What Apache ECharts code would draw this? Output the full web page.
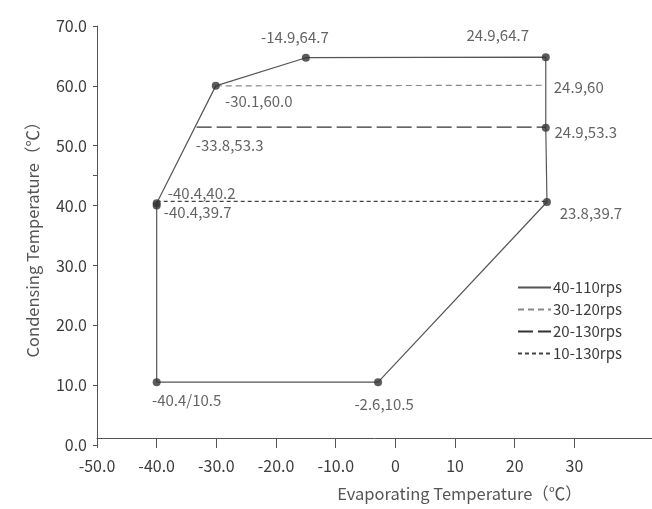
<!DOCTYPE html>
<html>
<head>
<meta charset="utf-8">
<script src="https://cdn.jsdelivr.net/npm/echarts@6/dist/echarts.min.js"></script>
<style>html,body{margin:0;padding:0;background:#fff}#c{width:652px;height:509px}</style>
</head>
<body>
<div id="c"></div>
<script>
// ---- data ----
const seriesNames = ['40-110rps', '30-120rps', '20-130rps', '10-130rps'];
// operating envelope (40-110rps), closed polygon
const envelopeX = [-40.0, -2.9, 25.4, 25.2, 25.2, -15.0, -30.1, -40.0, -40.0, -40.0];
const envelopeY = [10.5, 10.5, 40.6, 53.0, 64.8, 64.7, 60.0, 40.4, 40.0, 10.5];
// dots drawn on the envelope (indices into envelope arrays)
const dotIndex = [0, 1, 2, 3, 4, 5, 6, 7, 8];
// horizontal limit lines
const line30X = [-30.1, 25.2]; const line30Y = [60.0, 60.1];
const line20X = [-33.3, 25.2]; const line20Y = [53.1, 53.1];
const line10X = [-40.0, 25.4]; const line10Y = [40.7, 40.7];
// point labels
const labelText = ['-40.4/10.5', '-2.6,10.5', '23.8,39.7', '24.9,53.3', '24.9,60', '24.9,64.7', '-14.9,64.7', '-30.1,60.0', '-33.8,53.3', '-40.4,40.2', '-40.4,39.7'];
const labelX = [-40.0, -2.9, 25.4, 25.2, 25.2, 25.2, -15.0, -30.1, -33.3, -40.0, -40.0];
const labelY = [10.5, 10.5, 40.6, 53.0, 60.1, 64.8, 64.7, 60.0, 53.1, 40.4, 40.0];
// axis ticks
const xTicks = [-50, -40, -30, -20, -10, 0, 10, 20, 30];
const yTicks = [0, 10, 20, 30, 40, 45, 50, 60, 70];
const yTickLabels = [0, 10, 20, 30, 40, 50, 60, 70];

// ---- styling (positions of labels relative to their anchors) ----
const labelOffsets = [[30, 18], [6, 22], [44, 11], [40, 5], [33, 2], [-48, -22], [-11, -20], [43, 15], [33, 18], [45, -10], [41, 7]];

const FONT = "'Noto Sans CJK SC', 'Noto Sans', sans-serif";
const TXT = '#3c3c3c';

const zip = (xs, ys) => xs.map((x, i) => [x, ys[i]]);

const chart = echarts.init(document.getElementById('c'), null, { renderer: 'canvas' });
chart.setOption({
  animation: false,
  backgroundColor: '#fff',
  textStyle: { fontFamily: FONT },
  grid: { left: 97, right: 0, top: 26, bottom: 64, containLabel: false },
  legend: {
    orient: 'vertical', left: 512, top: 275,
    itemWidth: 33, itemHeight: 14, itemGap: 7,
    data: seriesNames,
    itemStyle: { color: 'rgba(0,0,0,0)', borderWidth: 0, opacity: 0 },
    textStyle: { fontSize: 15, color: TXT, fontFamily: FONT, padding: [0, 0, 0, -3] }
  },
  xAxis: {
    type: 'value', min: -50, max: 43, interval: 10, offset: -7,
    name: 'Evaporating Temperature（℃）', nameLocation: 'middle', nameGap: 47,
    nameTextStyle: { fontSize: 16.5, color: '#555', fontFamily: FONT, padding: [0, 0, 0, 170] },
    axisLine: { onZero: false, lineStyle: { color: '#555', width: 1 } },
    axisTick: { show: true, length: 10, customValues: xTicks, lineStyle: { color: '#555' } },
    axisLabel: {
      customValues: xTicks, margin: 20, fontSize: 16, color: TXT, fontFamily: FONT,
      formatter: v => (v < 0 ? v.toFixed(1) : String(v))
    },
    splitLine: { show: false }
  },
  yAxis: {
    type: 'value', min: 0, max: 70, interval: 10,
    name: 'Condensing Temperature（℃）', nameLocation: 'middle', nameGap: 56,
    nameTextStyle: { fontSize: 16.5, color: '#555', fontFamily: FONT },
    axisLine: { show: true, onZero: false, lineStyle: { color: '#555', width: 1 } },
    axisTick: { show: true, length: 4, customValues: yTicks, lineStyle: { color: '#555' } },
    axisLabel: {
      customValues: yTickLabels, margin: 10, fontSize: 16, color: TXT, fontFamily: FONT,
      formatter: v => v.toFixed(1)
    },
    splitLine: { show: false }
  },
  series: [
    {
      name: seriesNames[0], type: 'line', symbol: 'none', color: '#555',
      lineStyle: { color: '#555', width: 1.2, type: 'solid' },
      data: zip(envelopeX, envelopeY)
    },
    {
      name: seriesNames[1], type: 'line', symbol: 'none', color: '#888',
      lineStyle: { color: '#888', width: 1.2, type: [6, 4] },
      data: zip(line30X, line30Y)
    },
    {
      name: seriesNames[2], type: 'line', symbol: 'none', color: '#333',
      lineStyle: { color: '#333', width: 1.2, type: [15, 5] },
      data: zip(line20X, line20Y)
    },
    {
      name: seriesNames[3], type: 'line', symbol: 'none', color: '#444',
      lineStyle: { color: '#444', width: 1.2, type: [4, 3] },
      data: zip(line10X, line10Y)
    },
    {
      type: 'scatter', symbol: 'circle', symbolSize: 8, z: 5,
      itemStyle: { color: '#333' },
      data: dotIndex.map(i => [envelopeX[i], envelopeY[i]])
    },
    {
      type: 'scatter', symbol: 'circle', symbolSize: 1, z: 6,
      itemStyle: { color: 'rgba(0,0,0,0)' },
      data: labelText.map((t, i) => ({
        value: [labelX[i], labelY[i]],
        label: {
          show: true, formatter: t, position: 'inside', offset: labelOffsets[i],
          fontSize: 15, color: TXT, fontFamily: FONT
        }
      }))
    }
  ]
});
</script>
</body>
</html>
